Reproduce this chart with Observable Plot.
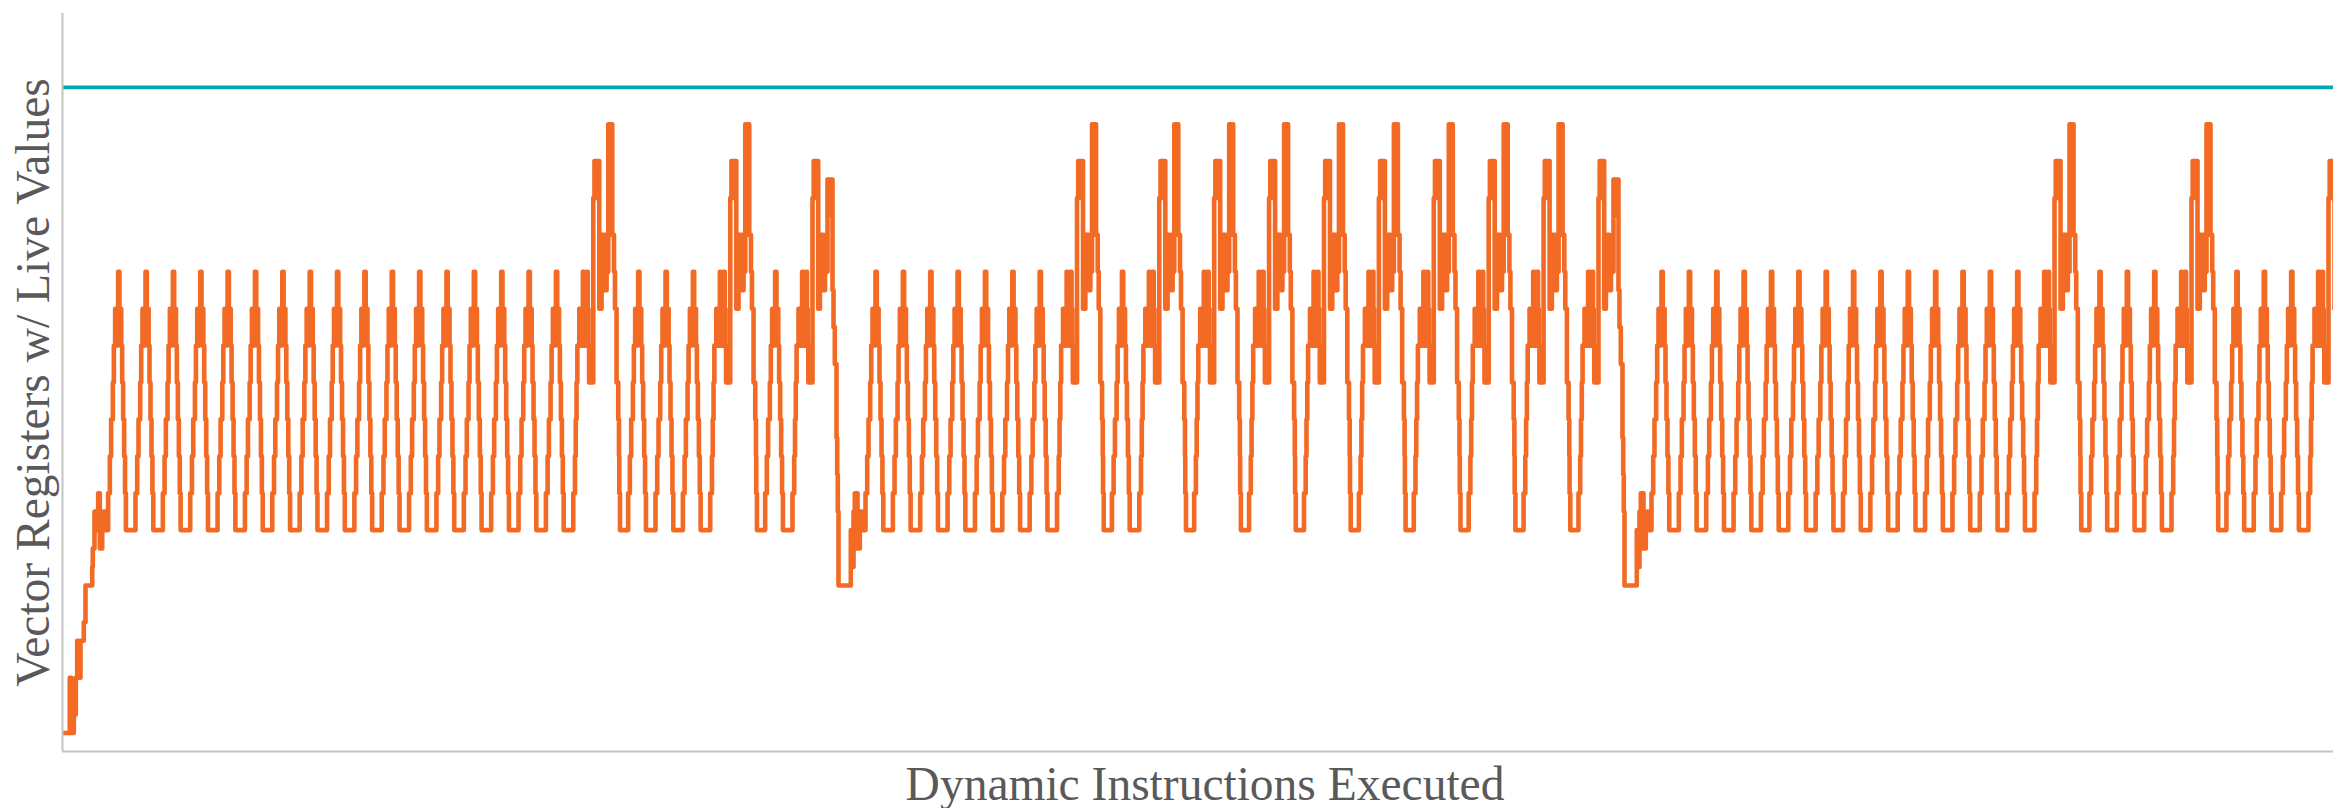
<!DOCTYPE html>
<html><head><meta charset="utf-8">
<script src="https://cdn.jsdelivr.net/npm/d3@7"></script>
<script src="https://cdn.jsdelivr.net/npm/@observablehq/plot@0.6"></script>
<style>
html,body{margin:0;padding:0;background:#fff;}
#chart svg{display:block;}
</style>
</head><body><div id="chart"></div>
<script>
const xLabel = "Dynamic Instructions Executed";
const yLabel = "Vector Registers w/ Live Values";
const registerCapacity = 36;
const xDomain = [0, 2271];
const yDomain = [0, 40];

// warm-up at program start: [instruction, live registers]
const startSteps = [[0,1],[7.3,4],[9,1],[11.3,2],[13.3,4],[14.7,6],[16.3,4],[18,6],[21.3,7],[23,9],[29.7,10],[30.3,11],[32,13],[33.7,12],[35.7,14],[37.3,11],[39.7,12],[41.3,13],[43,12]];
const firstCycleStart = 45.65;

// loop iterations: [duration, live registers]
const regularCycle = [[1.7,14],[1.3,16],[1.7,18],[1.0,20],[1.3,22],[1.2,24],[0.6,22],[1.2,24],[1.3,26],[0.9,24],[0.5,22],[0.4,24],[0.9,22],[1.0,20],[1.0,18],[0.9,16],[0.86,14],[9.6,12]];
const doubleHighCycle = [[1.7,14],[0.8,16],[0.8,18],[0.8,20],[1.9,22],[1.0,24],[0.5,22],[1.0,24],[0.5,22],[0.6,24],[1.0,26],[0.7,24],[0.5,22],[0.7,24],[0.6,22],[0.4,24],[1.0,26],[0.7,24],[0.6,22],[0.5,20],[0.4,22],[0.5,20],[0.4,22],[0.5,20],[0.4,22],[0.6,20],[0.4,22],[0.5,20],[1.2,30],[1.6,32],[0.5,30],[2.7,32],[2.3,24],[1.2,28],[0.4,26],[1.8,28],[1.6,25],[1.7,26],[1.5,34],[0.4,32],[2.1,34],[1.7,28],[1.0,26],[1.6,24],[1.7,20],[0.7,18],[0.3,16],[0.7,14],[8.2,12]];
const dipCycle = [[1.7,14],[0.8,16],[0.8,18],[0.8,20],[1.9,22],[1.0,24],[0.5,22],[1.0,24],[0.5,22],[0.6,24],[1.0,26],[0.7,24],[0.5,22],[0.7,24],[0.6,22],[0.4,24],[1.0,26],[0.7,24],[0.6,22],[0.5,20],[0.4,22],[0.5,20],[0.4,22],[0.5,20],[0.4,22],[0.6,20],[0.4,22],[0.5,20],[1.2,30],[1.6,32],[0.5,30],[2.4,32],[1.7,24],[3.6,28],[1.5,25],[2.5,26],[0.5,31],[0.4,29],[4.1,31],[1.0,25],[1.3,23],[1.7,21],[0.7,17],[0.6,15],[0.7,13],[12.3,9],[1.2,12],[1.5,10],[1.3,13],[2.7,14],[2.3,11],[1.7,13],[4.0,12]];
const cycleRuns = [["R",17],["DH",1],["R",3],["DH",1],["R",1],["DIP",1],["R",7],["DH",1],["R",1],["DH",8],["DIP",1],["R",14],["DH",1],["R",3],["DH",1],["R",3],["DH",1]];

const templates = {R: regularCycle, DH: doubleHighCycle, DIP: dipCycle};
const series = startSteps.map(([x, y]) => ({x, y}));
let pos = firstCycleStart;
for (const [kind, count] of cycleRuns) {
  for (let i = 0; i < count; i++) {
    for (const [dur, lvl] of templates[kind]) { series.push({x: pos, y: lvl}); pos += dur; }
  }
}
series.push({x: pos, y: 12});

const orange = "#F26A24", teal = "#00A7B4", axisGray = "#C4C4C4", textGray = "#595959";
const font = "'Liberation Serif', 'Times New Roman', serif";

const chart = Plot.plot({
  width: 2333, height: 808,
  marginLeft: 62, marginRight: 0, marginTop: 13, marginBottom: 57,
  x: {domain: xDomain, axis: null},
  y: {domain: yDomain, axis: null},
  style: {fontFamily: font, background: "#fff"},
  marks: [
    Plot.ruleY([registerCapacity], {stroke: teal, strokeWidth: 3.8}),
    Plot.line(series, {x: "x", y: "y", curve: "step-after", stroke: orange, strokeWidth: 4.6, clip: true}),
    Plot.ruleX([xDomain[0]], {stroke: axisGray, strokeWidth: 2}),
    Plot.ruleY([yDomain[0]], {stroke: axisGray, strokeWidth: 2}),
    Plot.text([xLabel], {frameAnchor: "bottom", lineAnchor: "bottom", textAnchor: "middle", dy: 48, dx: 7, fontSize: 47.5, fill: textGray, fontFamily: font}),
    Plot.text([yLabel], {frameAnchor: "left", lineAnchor: "bottom", textAnchor: "middle", rotate: -90, dx: -14, fontSize: 47.5, fill: textGray, fontFamily: font})
  ]
});
document.getElementById("chart").appendChild(chart);
</script>
</body></html>
